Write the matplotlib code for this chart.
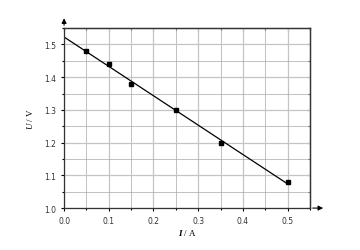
import numpy as np
import matplotlib.pyplot as plt
from matplotlib.ticker import MultipleLocator

plt.rcParams['mathtext.fontset'] = 'custom'
plt.rcParams['mathtext.rm'] = 'Liberation Serif'
plt.rcParams['mathtext.it'] = 'Liberation Serif:italic'
plt.rcParams['mathtext.bf'] = 'Liberation Serif:italic:bold'

current = [0.05, 0.10, 0.15, 0.25, 0.35, 0.50]
voltage = [1.48, 1.44, 1.38, 1.30, 1.20, 1.08]
xticks = [0.0, 0.1, 0.2, 0.3, 0.4, 0.5]
yticks = [1.0, 1.1, 1.2, 1.3, 1.4, 1.5]

k, b = np.polyfit(current, voltage, 1)
xfit = np.array([0.0, 0.5])

fig = plt.figure(figsize=(3.6, 2.51), dpi=100)
ax = fig.add_axes([0.178, 0.167, 0.683, 0.717])

ax.plot(xfit, k * xfit + b, color='black', lw=0.9)
ax.plot(current, voltage, 's', color='black', ms=3.2)

ax.set_xlim(0, 0.55)
ax.set_ylim(1.0, 1.55)
ax.set_xticks(xticks)
ax.set_yticks(yticks)
ax.set_xticklabels(['%.1f' % t for t in xticks])
ax.set_yticklabels(['%.1f' % t for t in yticks])
ax.xaxis.set_minor_locator(MultipleLocator(0.05))
ax.yaxis.set_minor_locator(MultipleLocator(0.05))

ax.grid(True, which='major', color='#c4c4c4', lw=0.9)
ax.grid(True, which='minor', color='#a8a8a8', lw=0.5)
ax.set_axisbelow(True)

ax.tick_params(which='both', labelsize=5.5, width=0.8, color='black',
               labelcolor='#333333', direction='out')
ax.tick_params(which='major', length=2.5)
ax.tick_params(which='minor', length=1.5)
for s in ax.spines.values():
    s.set_linewidth(0.9)
    s.set_color('#333333')

# inward ticks on top and right
top = ax.secondary_xaxis('top')
top.set_xticks(xticks)
top.xaxis.set_minor_locator(MultipleLocator(0.05))
top.tick_params(which='both', direction='in', labeltop=False, width=0.8)
top.tick_params(which='major', length=2.5)
top.tick_params(which='minor', length=1.5)
right = ax.secondary_yaxis('right')
right.set_yticks(yticks)
right.yaxis.set_minor_locator(MultipleLocator(0.05))
right.tick_params(which='both', direction='in', labelright=False, width=0.8)
right.tick_params(which='major', length=2.5)
right.tick_params(which='minor', length=1.5)
for sec in (top, right):
    for s in sec.spines.values():
        s.set_linewidth(0.9)
        s.set_color('#333333')

# axis arrows
ax.annotate('', xy=(1.065, 0), xytext=(1.0, 0), xycoords='axes fraction',
            arrowprops=dict(arrowstyle='-|>', color='black', lw=0.8,
                            mutation_scale=7))
ax.annotate('', xy=(0, 1.07), xytext=(0, 1.0), xycoords='axes fraction',
            arrowprops=dict(arrowstyle='-|>', color='black', lw=0.8,
                            mutation_scale=7))

ax.set_xlabel(r'$\mathbf{I}$ / A', fontsize=6.5, family='Liberation Serif',
              labelpad=1)
ax.set_ylabel(r'$\mathit{U}$ / V', fontsize=6.5, family='Liberation Serif',
              labelpad=6)

plt.savefig('out.png', dpi=100)
